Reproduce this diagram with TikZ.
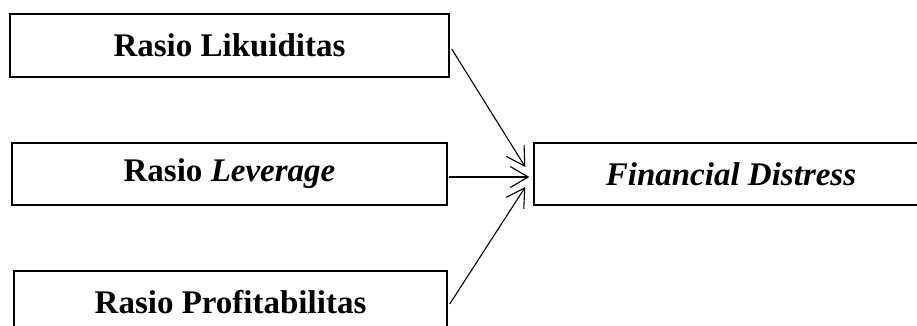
\documentclass[tikz,border=0pt]{standalone}
\usepackage{fontspec}
\setmainfont{Liberation Serif}
\usetikzlibrary{arrows.meta}
\tikzset{
  box/.style={draw, line width=1.4pt, rectangle, inner sep=0pt, font=\fontsize{33}{39}\selectfont\bfseries},
  conn/.style={line width=1.1pt, -{Straight Barb[length=18pt,width=21pt,line width=1.1pt]}}
}
\begin{document}
\begin{tikzpicture}[x=1pt,y=-1pt]
\useasboundingbox (0,0) rectangle (917,325);
\node[box, minimum width=439pt, minimum height=63pt] (b1) at (229.5,45.5) {Rasio Likuiditas};
\node[box, minimum width=435pt, minimum height=62pt] (b2) at (229.5,174) {Rasio \textit{Leverage}};
\node[box, minimum width=433pt, minimum height=62pt] (b3) at (230.5,302) {Rasio Profitabilitas};
\node[box, minimum width=394pt, minimum height=62pt] (fd) at (731,174) {\textit{Financial Distress}};
\draw[conn] ([xshift=2pt,yshift=-3.5pt]b1.east) -- ([xshift=-8pt,yshift=7pt]fd.west);
\draw[conn] ([xshift=1pt,yshift=-3pt]b2.east) -- ([xshift=-4pt,yshift=-3pt]fd.west);
\draw[conn] ([xshift=2pt,yshift=-2pt]b3.east) -- ([xshift=-8pt,yshift=-13pt]fd.west);
\end{tikzpicture}
\end{document}
